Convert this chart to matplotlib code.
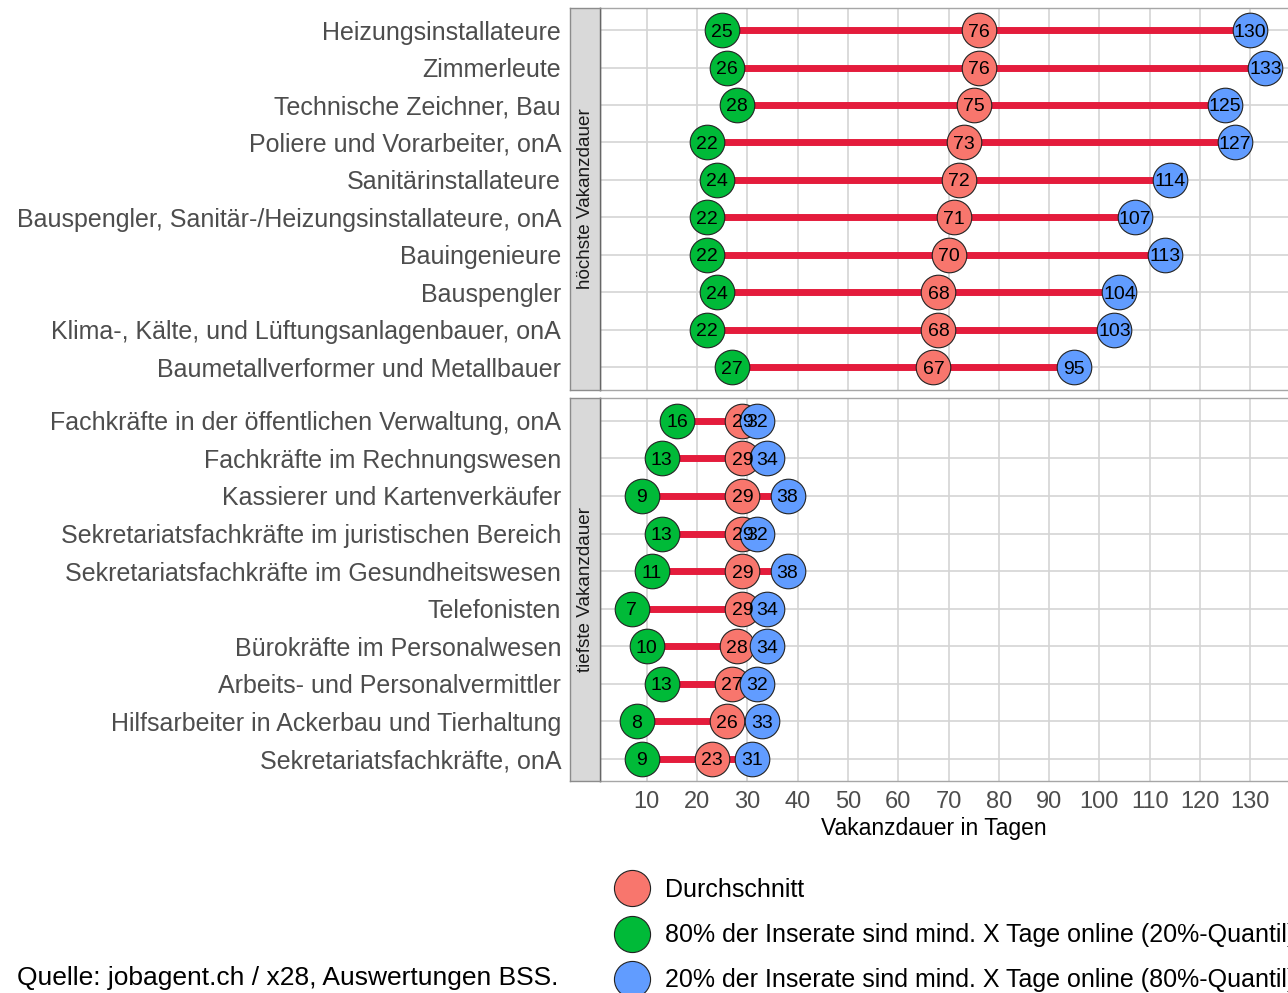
import matplotlib.pyplot as plt
from matplotlib.lines import Line2D

plt.rcParams['font.family'] = ['Liberation Sans', 'DejaVu Sans']

# Daten: 20%-Quantil, Durchschnitt, 80%-Quantil (Tage)
top_labels = ['Heizungsinstallateure', 'Zimmerleute', 'Technische Zeichner, Bau',
              'Poliere und Vorarbeiter, onA', 'Sanitärinstallateure',
              'Bauspengler, Sanitär-/Heizungsinstallateure, onA', 'Bauingenieure',
              'Bauspengler', 'Klima-, Kälte, und Lüftungsanlagenbauer, onA',
              'Baumetallverformer und Metallbauer']
top_q20 = [25, 26, 28, 22, 24, 22, 22, 24, 22, 27]
top_mean = [76, 76, 75, 73, 72, 71, 70, 68, 68, 67]
top_q80 = [130, 133, 125, 127, 114, 107, 113, 104, 103, 95]

bot_labels = ['Fachkräfte in der öffentlichen Verwaltung, onA',
              'Fachkräfte im Rechnungswesen', 'Kassierer und Kartenverkäufer',
              'Sekretariatsfachkräfte im juristischen Bereich',
              'Sekretariatsfachkräfte im Gesundheitswesen', 'Telefonisten',
              'Bürokräfte im Personalwesen', 'Arbeits- und Personalvermittler',
              'Hilfsarbeiter in Ackerbau und Tierhaltung', 'Sekretariatsfachkräfte, onA']
bot_q20 = [16, 13, 9, 13, 11, 7, 10, 13, 8, 9]
bot_mean = [29, 29, 29, 29, 29, 29, 28, 27, 26, 23]
bot_q80 = [32, 34, 38, 32, 38, 34, 34, 32, 33, 31]

facets = ['höchste Vakanzdauer', 'tiefste Vakanzdauer']
x_ticks = list(range(10, 140, 10))

c_mean = '#F8766D'
c_q20 = '#00BA38'
c_q80 = '#619CFF'
c_line = '#E41C3C'

W, H = 1288, 993
fig = plt.figure(figsize=(W / 100, H / 100), dpi=100)


def box(x0, x1, y0, y1):
    # Pixelkoordinaten (oben links) -> Figurenanteile
    return [x0 / W, (H - y1) / H, (x1 - x0) / W, (y1 - y0) / H]


panels = [
    (top_labels, top_q20, top_mean, top_q80, 7.6, 389.6),
    (bot_labels, bot_q20, bot_mean, bot_q80, 398.4, 781.2),
]

xmin = 7 - 0.05 * 126
xmax = 133 + 0.05 * 126

for k, (labels, q20, mean, q80, y0, y1) in enumerate(panels):
    ax = fig.add_axes(box(600, 1297, y0, y1))
    ypos = list(range(1, len(labels) + 1))
    ax.set_xlim(xmin, xmax)
    ax.set_ylim(len(labels) + 0.6, 0.4)
    ax.set_xticks(x_ticks)
    ax.set_yticks(ypos)
    ax.set_yticklabels(labels, fontsize=18, color='#4D4D4D')
    ax.grid(True, color='#D4D4D4', linewidth=1.2)
    ax.set_axisbelow(True)
    ax.tick_params(axis='y', length=0, pad=28)
    for s in ax.spines.values():
        s.set_color('#A6A6A6')
        s.set_linewidth(1.0)
    ax.spines['left'].set_color('#666666')
    ax.hlines(ypos, q20, q80, color=c_line, linewidth=5, zorder=2)
    ax.scatter(q20, ypos, s=620, color=c_q20, edgecolor='#222222', linewidth=0.8, zorder=3)
    ax.scatter(mean, ypos, s=620, color=c_mean, edgecolor='#222222', linewidth=0.8, zorder=3)
    ax.scatter(q80, ypos, s=620, color=c_q80, edgecolor='#222222', linewidth=0.8, zorder=3)
    for vals in (q20, mean, q80):
        for v, yy in zip(vals, ypos):
            ax.text(v, yy, str(v), ha='center', va='center_baseline', fontsize=14, zorder=4)
    if k == 0:
        ax.tick_params(axis='x', labelbottom=False, length=0)
    else:
        ax.tick_params(axis='x', length=0, pad=7, labelsize=17, labelcolor='#4D4D4D')

    sax = fig.add_axes(box(570, 600, y0, y1))
    sax.set_facecolor('#D9D9D9')
    sax.set_xticks([])
    sax.set_yticks([])
    for s in sax.spines.values():
        s.set_color('#8C8C8C')
        s.set_linewidth(1.0)
    sax.spines['right'].set_color('#666666')
    sax.text(0.5, 0.5, facets[k], rotation=90, ha='center', va='center',
             fontsize=13.6, color='#1A1A1A', transform=sax.transAxes)

fig.text(933.5 / W, 1 - 828 / H, 'Vakanzdauer in Tagen', ha='center', va='center',
         fontsize=16.5)

handles = [
    Line2D([], [], linestyle='none', marker='o', markersize=26, markerfacecolor=c,
           markeredgecolor='#222222', markeredgewidth=0.8)
    for c in (c_mean, c_q20, c_q80)
]
legend_labels = ['Durchschnitt',
                 '80% der Inserate sind mind. X Tage online (20%-Quantil)',
                 '20% der Inserate sind mind. X Tage online (80%-Quantil)']
fig.legend(handles, legend_labels, loc='upper left', bbox_to_anchor=(607 / W, 1 - 878 / H),
           frameon=False, fontsize=18, labelspacing=0.85, handletextpad=0.32,
           borderaxespad=0, borderpad=0)

fig.text(17 / W, 1 - 978 / H, 'Quelle: jobagent.ch / x28, Auswertungen BSS.',
         ha='left', va='center', fontsize=19)

fig.savefig('out.png', dpi=100)
